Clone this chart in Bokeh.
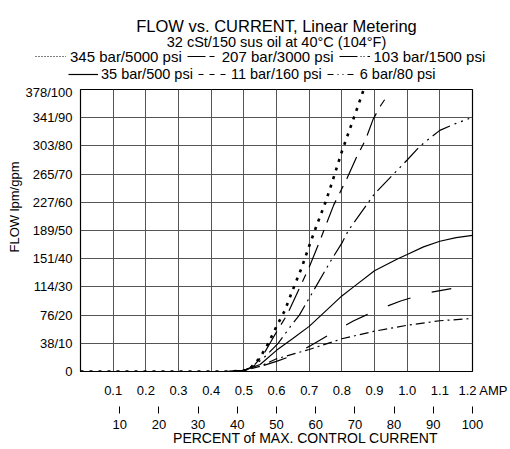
from math import nan
from bokeh.plotting import figure
from bokeh.layouts import column
from bokeh.models import (Range1d, LinearAxis, FixedTicker,
                          Legend, LegendItem, Title, Label)
from bokeh.embed import file_html
from bokeh.resources import INLINE

# ---------------- data ----------------
amps_345 = [0.0, 0.45, 0.50, 0.52, 0.55, 0.575, 0.60, 0.625, 0.65, 0.676, 0.70, 0.722, 0.75, 0.77, 0.80, 0.84, 0.867]
flow_345 = [0, 0, 0.3, 1.2, 5, 10, 16, 21.5, 29, 36.5, 44.5, 51.5, 60, 67, 78, 91, 100]

amps_207 = [0.0, 0.45, 0.50, 0.53, 0.56, 0.58, 0.605, 0.632, 0.672, 0.70, 0.735, 0.775, 0.816, 0.847, 0.872, 0.896, 0.92, 0.944]
flow_207 = [0, 0, 0.3, 2, 6, 10, 15, 20, 30, 37, 47, 59, 68.5, 76.5, 82, 89.5, 94.5, 98.6]

amps_103 = [0.0, 0.45, 0.50, 0.53, 0.566, 0.605, 0.643, 0.67, 0.72, 0.77, 0.80, 0.82, 0.86, 0.90, 0.95, 1.0, 1.04, 1.08, 1.10, 1.15, 1.19]
flow_103 = [0, 0, 0.3, 1.9, 5.4, 10, 16, 20, 30, 40, 45.5, 50, 56.5, 63, 69, 75, 80, 83.7, 85.5, 88, 89.7]

amps_35 = [0.0, 0.45, 0.50, 0.55, 0.60, 0.65, 0.70, 0.765, 0.80, 0.837, 0.90, 0.97, 1.0, 1.05, 1.10, 1.15, 1.2]
flow_35 = [0, 0, 0.3, 2.5, 7.5, 11.7, 16, 23, 26.8, 30.1, 35.7, 39.9, 41.5, 44.2, 46.2, 47.5, 48.3]

amps_11 = [0.0, 0.45, 0.50, 0.55, 0.60, 0.643, 0.70, 0.765, 0.835, 0.908, 0.98, 1.06, 1.135]
flow_11 = [0, 0, 0.3, 1.8, 3.6, 5.4, 8.9, 13.3, 17.9, 21.8, 25, 27.8, 29.4]

amps_6 = [0.0, 0.45, 0.50, 0.551, 0.60, 0.70, 0.80, 0.90, 1.0, 1.1, 1.2]
flow_6 = [0, 0, 0.3, 1.9, 4.5, 7.8, 11.6, 14.3, 16.4, 18.0, 18.8]

series_labels = ["345 bar/5000 psi", "207 bar/3000 psi", "103 bar/1500 psi",
                 "35 bar/500 psi", "11 bar/160 psi", "6 bar/80 psi"]

amp_ticks = [0.1, 0.2, 0.3, 0.4, 0.5, 0.6, 0.7, 0.8, 0.9, 1.0, 1.1, 1.2]
amp_tick_labels = ["0.1", "0.2", "0.3", "0.4", "0.5", "0.6", "0.7", "0.8", "0.9",
                   "1.0", "1.1", "\u00a0" * 6 + "1.2 AMP"]
pct_ticks = [10, 20, 30, 40, 50, 60, 70, 80, 90, 100]
flow_ticks = [0, 10, 20, 30, 40, 50, 60, 70, 80, 90, 100]
flow_tick_labels = ["0", "38/10", "76/20", "114/30", "151/40", "189/50",
                    "227/60", "265/70", "303/80", "341/90", "378/100"]

title_text = "FLOW vs. CURRENT, Linear Metering"
subtitle_text = "32 cSt/150 sus oil at 40°C (104°F)"
xlabel_pct = "PERCENT of MAX. CONTROL CURRENT"
ylabel_text = "FLOW lpm/gpm"

FONT = "Liberation Sans"
W = 510
HEAD_H = 84
MAIN_H = 449 - HEAD_H

# ---------------- header (title, subtitle, legend) ----------------
head = figure(width=W, height=HEAD_H, output_backend="svg", toolbar_location=None,
              x_axis_type=None, y_axis_type=None, x_range=Range1d(0, 1), y_range=Range1d(0, 1),
              min_border=0)
head.frame_align = False
head.title_location = None
head.outline_line_color = None
head.background_fill_color = "white"
head.border_fill_color = "white"

head.add_layout(Label(x=276, y=HEAD_H - 25, x_units="screen", y_units="screen", text=title_text,
                      text_align="center", text_baseline="alphabetic",
                      text_font=FONT, text_font_size="16.5px", text_color="black"))
head.add_layout(Label(x=276, y=HEAD_H - 41.5, x_units="screen", y_units="screen", text=subtitle_text,
                      text_align="center", text_baseline="alphabetic",
                      text_font=FONT, text_font_size="14.5px", text_color="black"))

legend_styles = [
    dict(line_width=1.2, line_dash="1 2"),
    dict(line_width=1.2, line_dash="18 4 5 4"),
    dict(line_width=1.2, line_dash="18 3 1 2 1 3"),
    dict(line_width=1.2, line_dash="solid"),
    dict(line_width=1.2, line_dash="5 6"),
    dict(line_width=1.2, line_dash="6 4 1 4 1 4"),
]
# legend-only proxies: a single undefined point, so nothing is drawn
proxies = [head.line([nan], [nan], line_color="black", **st) for st in legend_styles]


def make_legend(idx, loc, size, glyph_w, standoff, spacing):
    items = [LegendItem(label=series_labels[i], renderers=[proxies[i]]) for i in idx]
    return Legend(items=items, orientation="horizontal", location=loc,
                  label_text_font=FONT, label_text_font_size=size, label_text_color="black",
                  glyph_width=glyph_w, glyph_height=18, label_height=18, label_standoff=standoff,
                  spacing=spacing, padding=0, margin=0, border_line_color=None,
                  background_fill_alpha=0)


head.add_layout(make_legend([0, 1, 2], (35, HEAD_H - 47 - 18), "15px", 31, 4, 5), "center")
head.add_layout(make_legend([3, 4, 5], (68, HEAD_H - 65 - 18), "14.5px", 30, 3, 5), "center")

# ---------------- main chart ----------------
p = figure(width=W, height=MAIN_H, output_backend="svg", toolbar_location=None,
           x_range=Range1d(0, 1.2), y_range=Range1d(0, 100),
           min_border_left=80, min_border_right=38, min_border_top=5, min_border_bottom=78)
p.frame_align = False
p.title_location = None
p.background_fill_color = "white"
p.border_fill_color = "white"
p.outline_line_color = "black"
p.outline_line_width = 1.2

p.xgrid.ticker = FixedTicker(ticks=amp_ticks)
p.ygrid.ticker = FixedTicker(ticks=flow_ticks)
for g in (p.xgrid, p.ygrid):
    g.grid_line_color = "#555555"
    g.grid_line_width = 1

# amp axis
ax = p.xaxis[0]
ax.ticker = FixedTicker(ticks=amp_ticks)
ax.major_label_overrides = {t: s for t, s in zip(amp_ticks, amp_tick_labels)}
ax.axis_line_color = None
ax.major_tick_line_color = None
ax.minor_tick_line_color = None
ax.major_tick_in = 0
ax.major_tick_out = 0
ax.major_label_standoff = 11
ax.major_label_text_font = FONT
ax.major_label_text_font_size = "13px"
ax.major_label_text_color = "black"
ax.axis_label = "\u00a0"          # blank spacer below the ampere labels
ax.axis_label_standoff = 0
ax.axis_label_text_font_size = "3px"

# y axis
ay = p.yaxis[0]
ay.ticker = FixedTicker(ticks=flow_ticks)
ay.major_label_overrides = {t: s for t, s in zip(flow_ticks, flow_tick_labels)}
ay.axis_line_color = None
ay.major_tick_line_color = None
ay.minor_tick_line_color = None
ay.major_tick_in = 0
ay.major_tick_out = 0
ay.major_label_standoff = 8
ay.major_label_text_font = FONT
ay.major_label_text_font_size = "13px"
ay.major_label_text_color = "black"

p.add_layout(Title(text=ylabel_text, align="left", offset=119, standoff=2,
                   text_font=FONT, text_font_size="13px", text_font_style="normal",
                   text_color="black"), "left")

# percent axis
p.extra_x_ranges = {"pct": Range1d(0, 100)}
pax = LinearAxis(x_range_name="pct", ticker=FixedTicker(ticks=pct_ticks),
                 axis_label="\u00a0" * 15 + xlabel_pct)
pax.axis_line_color = None
pax.minor_tick_line_color = None
pax.major_tick_line_color = "black"
pax.major_tick_line_width = 1
pax.major_tick_in = 0
pax.major_tick_out = 7
pax.major_label_standoff = 6
pax.major_label_text_font = FONT
pax.major_label_text_font_size = "13px"
pax.major_label_text_color = "black"
pax.axis_label_standoff = -2
pax.axis_label_text_font = FONT
pax.axis_label_text_font_size = "14px"
pax.axis_label_text_font_style = "normal"
pax.axis_label_text_color = "black"
p.add_layout(pax, "below")

# curves
styles = [
    dict(line_width=2.6, line_dash="3 6"),
    dict(line_width=1.2, line_dash="24 8 8 8"),
    dict(line_width=1.2, line_dash="20 5 2 5 2 5"),
    dict(line_width=1.2, line_dash="solid"),
    dict(line_width=1.2, line_dash="24 22"),
    dict(line_width=1.2, line_dash="9 4 2 4"),
]
data = [(amps_345, flow_345), (amps_207, flow_207), (amps_103, flow_103),
        (amps_35, flow_35), (amps_11, flow_11), (amps_6, flow_6)]
for (xs, ys), st in zip(data, styles):
    p.line(xs, ys, line_color="black", **st)

layout = column(head, p, spacing=0)
open("out.html", "w").write(file_html(layout, INLINE))
